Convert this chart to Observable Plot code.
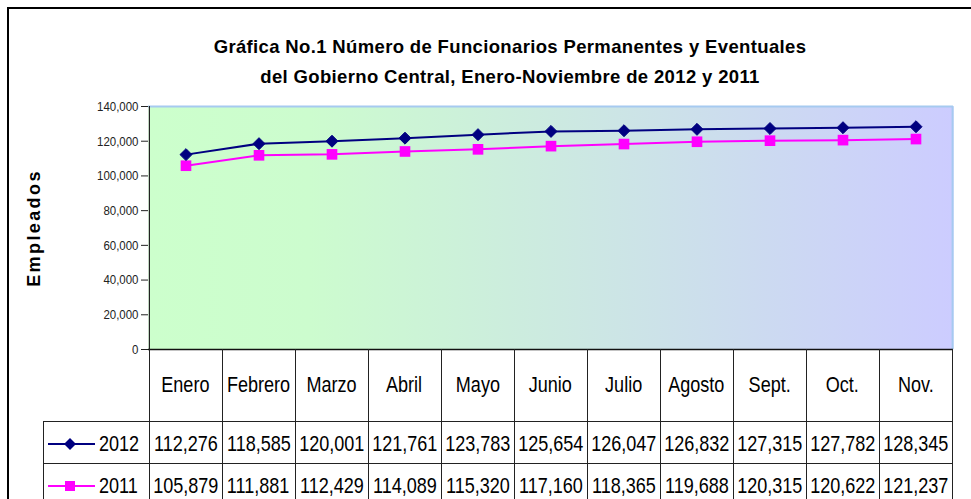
<!DOCTYPE html>
<html>
<head>
<meta charset="utf-8">
<script src="https://cdn.jsdelivr.net/npm/d3@7"></script>
<script src="https://cdn.jsdelivr.net/npm/@observablehq/plot@0.6"></script>
<style>
  html, body { margin: 0; padding: 0; background: #fff; }
  #wrap { position: relative; width: 971px; height: 499px; overflow: hidden; background: #fff; }
  #border { position: absolute; left: 7px; top: 7px; width: 1000px; height: 600px; border: 2px solid #000; box-sizing: border-box; }
  #title { position: absolute; left: 160px; width: 700px; top: 32px; text-align: center; font: bold 18.5px "Liberation Sans", Arial, sans-serif; letter-spacing: 0.35px; line-height: 30px; color: #000; }
  #chart { position: absolute; left: 0; top: 0; }
  .cell { position: absolute; display: flex; align-items: center; justify-content: center; font: 22px "Liberation Sans", Arial, sans-serif; color: #000; white-space: nowrap; }
  .cell span.t { display: inline-block; transform: scaleX(0.82); transform-origin: center center; }
  .cell.leg span.t { transform-origin: left center; }
  .hl { position: absolute; height: 1px; background: #222; }
  .vl { position: absolute; width: 1px; background: #222; }
  g[aria-label="y-axis label"] text { letter-spacing: 2.4px; font-weight: bold; font-size: 18px; font-family: "Liberation Sans", Arial, sans-serif; fill: #000; }
</style>
</head>
<body>
<div id="wrap">
  <div id="border"></div>
  <div id="chart"></div>
  <div id="title">Gráfica No.1 Número de Funcionarios Permanentes y Eventuales<br>del Gobierno Central, Enero-Noviembre de 2012 y 2011</div>
</div>
<script>
const months = ["Enero","Febrero","Marzo","Abril","Mayo","Junio","Julio","Agosto","Sept.","Oct.","Nov."];
const series = ["2012", "2011"];
const values2012 = [112276,118585,120001,121761,123783,125654,126047,126832,127315,127782,128345];
const values2011 = [105879,111881,112429,114089,115320,117160,118365,119688,120315,120622,121237];
const yTicks = [0,20000,40000,60000,80000,100000,120000,140000];
const colors = {"2012": "#000080", "2011": "#ff00ff"};

const data2012 = months.map((m, i) => ({month: m, value: values2012[i], series: "2012"}));
const data2011 = months.map((m, i) => ({month: m, value: values2011[i], series: "2011"}));

const W = 971, H = 499, mL = 148, mR = 18, mT = 106, mB = 150;
const bw = (W - mL - mR) / months.length;

const chart = Plot.plot({
  width: W, height: H,
  marginTop: mT, marginBottom: mB, marginLeft: mL, marginRight: mR,
  style: {background: "transparent", fontFamily: '"Liberation Sans", Arial, sans-serif', fontSize: "13.5px", color: "#222"},
  x: {type: "band", domain: months, padding: 0, axis: null},
  y: {domain: [0, 140000], ticks: yTicks, tickFormat: d3.format(","), tickSize: 7, tickPadding: 3,
      label: "Empleados", labelAnchor: "center", labelOffset: 121, labelArrow: "none"},
  marks: [
    Plot.frame({fill: "url(#bgGrad)", stroke: null}),
    Plot.ruleY([140000], {stroke: "#a6caf0", strokeWidth: 2}),
    Plot.ruleX([months[months.length - 1]], {dx: bw / 2, stroke: "#a6caf0", strokeWidth: 2}),
    Plot.ruleX([months[0]], {dx: -bw / 2, stroke: "#222", strokeWidth: 1.2}),
    Plot.ruleY([0], {stroke: "#111", strokeWidth: 1.5}),
    Plot.line(data2012, {x: "month", y: "value", stroke: colors["2012"], strokeWidth: 2}),
    Plot.line(data2011, {x: "month", y: "value", stroke: colors["2011"], strokeWidth: 2}),
    Plot.dot(data2011, {x: "month", y: "value", symbol: "square", r: 6, fill: colors["2011"], stroke: null}),
    Plot.dot(data2012, {x: "month", y: "value", symbol: "diamond2", r: 5.4, fill: colors["2012"], stroke: colors["2012"], strokeWidth: 1})
  ]
});

// condensed look for the tick labels (no narrow font installed)
chart.querySelectorAll('g[aria-label="y-axis tick label"] text').forEach(t => {
  const tr = t.getAttribute("transform");
  if (tr) t.setAttribute("transform", tr + " scale(0.85,1)");
});

// gradient background for the plotting area
const ns = "http://www.w3.org/2000/svg";
const defs = document.createElementNS(ns, "defs");
const grad = document.createElementNS(ns, "linearGradient");
grad.setAttribute("id", "bgGrad");
grad.setAttribute("x1", "0"); grad.setAttribute("x2", "1");
grad.setAttribute("y1", "0"); grad.setAttribute("y2", "0");
[["0%", "#ccffcc"], ["20%", "#ccfcce"], ["100%", "#ccccff"]].forEach(([o, c]) => {
  const s = document.createElementNS(ns, "stop");
  s.setAttribute("offset", o); s.setAttribute("stop-color", c);
  grad.appendChild(s);
});
defs.appendChild(grad);
chart.insertBefore(defs, chart.firstChild);
document.getElementById("chart").appendChild(chart);

// data table below the plot, aligned to the x scale
const wrap = document.getElementById("wrap");
const sx = chart.scale("x");
const band = sx.bandwidth;
const top0 = H - mB;            // bottom of the frame
const hdrH = 72, rowH = 42;
const legendLeft = 43;
const right = sx.apply(months[months.length - 1]) + band;

function add(cls, style, html) {
  const d = document.createElement("div");
  d.className = cls;
  Object.assign(d.style, style);
  if (html != null) d.innerHTML = html;
  wrap.appendChild(d);
  return d;
}

// header row (month names)
months.forEach(m => {
  const x0 = sx.apply(m);
  add("cell", {left: x0 + "px", top: top0 + "px", width: band + "px", height: hdrH + "px"}, `<span class="t">${m}</span>`);
});

// value rows
const rows = [["2012", values2012, "diamond"], ["2011", values2011, "square"]];
rows.forEach(([name, vals, sym], r) => {
  const y0 = top0 + hdrH + r * rowH;
  months.forEach((m, i) => {
    const x0 = sx.apply(m);
    add("cell", {left: x0 + "px", top: (y0 + 2) + "px", width: band + "px", height: rowH + "px"}, `<span class="t">${d3.format(",")(vals[i])}</span>`);
  });
  const c = colors[name];
  const marker = sym === "diamond"
    ? `<path d="M22,1 L28,7 L22,13 L16,7 Z" fill="${c}"/>`
    : `<rect x="17" y="2" width="10" height="10" fill="${c}"/>`;
  add("cell leg", {left: legendLeft + "px", top: (y0 + 2) + "px", width: (mL - legendLeft) + "px", height: rowH + "px", justifyContent: "flex-start", paddingLeft: "5px", boxSizing: "border-box"},
    `<svg width="48" height="14" style="margin-right:3px"><line x1="0" x2="47" y1="7" y2="7" stroke="${c}" stroke-width="2"/>${marker}</svg><span class="t">${name}</span>`);
});

// table grid lines
[top0 + hdrH, top0 + hdrH + rowH].forEach(y => add("hl", {left: legendLeft + "px", top: y + "px", width: (right - legendLeft + 1) + "px"}));
months.forEach(m => {
  const x0 = sx.apply(m);
  add("vl", {left: (x0) + "px", top: top0 + "px", height: (H - top0) + "px"});
});
add("vl", {left: (right) + "px", top: top0 + "px", height: (H - top0) + "px"});
add("vl", {left: legendLeft + "px", top: (top0 + hdrH) + "px", height: (H - top0 - hdrH) + "px"});
</script>
</body>
</html>
